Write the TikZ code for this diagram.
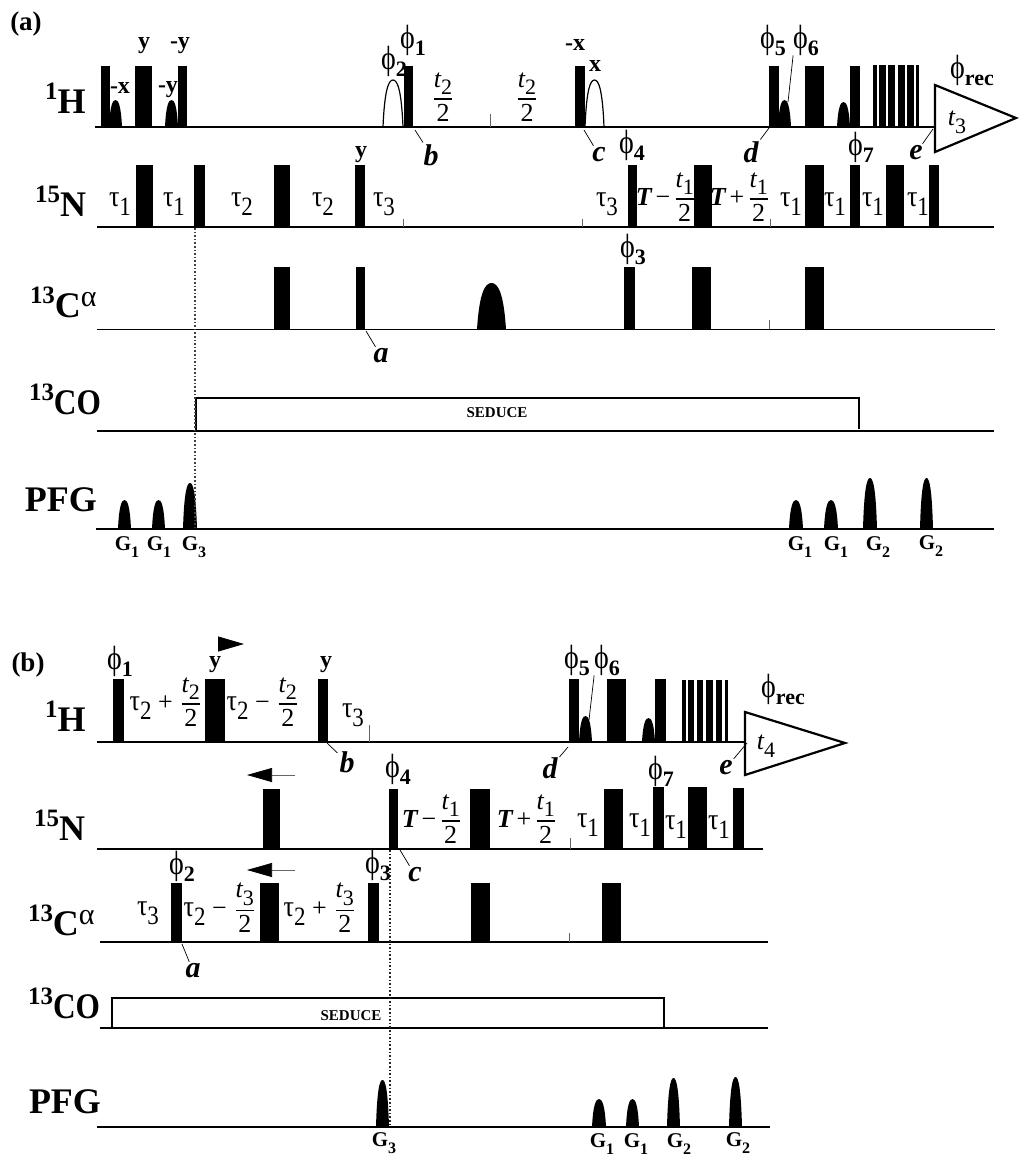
\documentclass[tikz,border=0pt]{standalone}
\usepackage{fontspec}
\setmainfont{Liberation Serif}
\usepackage{amsmath}
\usepackage{graphicx}
\usetikzlibrary{arrows.meta}
\tikzset{
  axisline/.style={line width=0.7pt},
  lead/.style={line width=0.35pt},
  tickline/.style={line width=0.35pt,draw=black!60},
  vline/.style={line width=0.8pt,draw=black!75,densely dotted},
  box/.style={line width=0.6pt},
  txt/.style={inner sep=0pt,outer sep=0pt,font=\fontsize{13}{15}\selectfont},
  nuc/.style={inner sep=0pt,outer sep=0pt,anchor=base west},
  lab/.style={txt,font=\fontsize{12}{14}\bfseries\selectfont},
  tag/.style={inner sep=0pt,outer sep=1pt,font=\fontsize{15}{17}\bfseries\itshape\selectfont},
  grad/.style={txt,font=\fontsize{10.5}{12}\bfseries\selectfont},
  larr/.style={line width=0.35pt,draw=black!60,-{Triangle[length=12.5pt,width=7pt,color=black]}},
}
\newcommand{\bigiso}[2]{{\fontsize{12.5}{14}\bfseries\selectfont\raisebox{0.55em}{#1}}{\fontsize{18}{20}\bfseries\selectfont #2}}
\newcommand{\coiso}{{\fontsize{12.5}{14}\bfseries\selectfont\raisebox{0.55em}{13}}\scalebox{0.87}[1]{\fontsize{18}{20}\bfseries\selectfont CO}}
\newcommand{\tausub}[1]{\scalebox{1}[1.15]{τ\raisebox{-0.3em}{\fontsize{11.5}{12}\selectfont #1}}}
\newcommand{\phisub}[1]{{\fontsize{14}{15}\selectfont\scalebox{1}[1.2]{ϕ}\raisebox{-0.25em}{\fontsize{11}{12}\bfseries\selectfont #1}}}
\newcommand{\gsub}[1]{G\raisebox{-0.3em}{\fontsize{8}{9}\bfseries\selectfont #1}}
\newcommand{\half}[2]{\ensuremath{\genfrac{}{}{0.6pt}{0}{\mbox{\itshape #1\raisebox{-0.3em}{\fontsize{11}{12}\upshape\selectfont #2}}}{\mbox{2}}}}
\newcommand{\tterm}[3]{\textbf{\textit{T}}\kern1.5pt#1\kern1.5pt\half{#2}{#3}}
\newcommand{\lobe}[5][fill]{%
  \pgfmathsetmacro{\lw}{#3-#2}\pgfmathsetmacro{\lh}{#5-#4}
  \path[#1] (#2,#5) .. controls (#2+0.08*\lw,#4+0.2*\lh) and (#2+0.28*\lw,#4) .. (#2+0.5*\lw,#4)
    .. controls (#3-0.28*\lw,#4) and (#3-0.08*\lw,#4+0.2*\lh) .. (#3,#5);}

\begin{document}
\begin{tikzpicture}[x=0.5pt,y=-0.5pt]
  \useasboundingbox (0,0) rectangle (1018,1157);
  % panel a
  \node[txt,font=\fontsize{13.5}{15}\bfseries\selectfont] (panela) at (26,24) {(a)};
  \node[nuc] (ha) at (45,113) {\bigiso{1}{H}};
  \node[nuc] (na) at (35,216) {\bigiso{15}{N}};
  \node[nuc] (ca) at (30,317) {\bigiso{13}{C}\raisebox{0.55em}{\fontsize{15}{16}\selectfont α}};
  \node[nuc] (coa) at (29,414) {\coiso};
  \node[nuc] (pfga) at (25,511) {{\fontsize{18}{20}\bfseries\selectfont PFG}};

  \draw[axisline] (95,127)--(935,127);
  \draw[axisline] (97,227)--(994,227);
  \draw[axisline] (97,329.5)--(995,329.5);
  \draw[axisline] (97,431)--(994,431);
  \draw[axisline] (96,529)--(994,529);

  \foreach \xa/\xb in {101/110,135/152,178/187,404/413,575/585,769/778.5,805/824,850/860}
    \fill (\xa,66) rectangle (\xb,127);
  \foreach \xa/\xb in {873/876.5,879/885.5,888/895,898/905,907/914,916/919}
    \fill (\xa,65) rectangle (\xb,127);
  \foreach \xa/\xb in {136/153,194/204.5,274/290,355/365,628/637,694/712,805/824,850/860,886/904,929/939}
    \fill (\xa,165) rectangle (\xb,227);
  \foreach \xa/\xb in {274/290,356/365,624/635,692/711,805/824}
    \fill (\xa,267) rectangle (\xb,329.5);

  \lobe{109}{122}{100}{127}
  \lobe{165}{178}{100}{127}
  \lobe{778}{791}{100}{127}
  \lobe{837}{850}{102}{127}
  \lobe[draw,box]{383}{403}{80}{127}
  \lobe[draw,box]{585}{604}{80}{127}
  \lobe{477}{506}{283}{329.5}
  \foreach \xa/\xb/\yt in {118/131/500,152/165/500,183/197/483,789/803/500,824/838/500,863/877/478,920/933/478}
    {\lobe{\xa}{\xb}{\yt}{529}}

  \foreach \xa/\ya/\yb in {490/114/127,403/219/227,582/219/227,770/219/227,769/320/329}
    \draw[tickline] (\xa,\ya)--(\xa,\yb);

  \draw[box,line width=0.8pt] (196,431)--(196,398)--(859,398)--(859,429);
  \node[txt,font=\fontsize{7.5}{9}\bfseries\selectfont] (seducea) at (497,413) {SEDUCE};
  \draw[vline] (195,228)--(195,529);
  \draw[line width=1.1pt,fill=white] (935,85)--(1016,118)--(935,152)--cycle;

  \node[lab] (ya) at (144,46) {y};
  \node[lab] (myb) at (180,46) {-y};
  \node[lab] (mxa) at (120,88) {-x};
  \node[lab] (myc) at (168,90) {-y};
  \node[lab] (yb) at (361,155) {y};
  \node[lab] (mxb) at (575,45) {-x};
  \node[lab] (xa) at (595,66) {x};
  \node[txt] (p1a) at (413,40) {\phisub{1}};
  \node[txt] (p2a) at (394,61) {\phisub{2}};
  \node[txt] (p4a) at (632,145) {\phisub{4}};
  \node[txt] (p3a) at (633,249) {\phisub{3}};
  \node[txt] (p5a) at (773,40) {\phisub{5}};
  \node[txt] (p6a) at (806,40) {\phisub{6}};
  \node[txt] (p7a) at (861,147) {\phisub{7}};
  \node[txt] (prec) at (972,70) {{\fontsize{14}{15}\selectfont\scalebox{1}[1.2]{ϕ}\raisebox{-0.25em}{\fontsize{11}{12}\bfseries\selectfont rec}}};
  \node[txt] (t2a) at (443,97) {\half{t}{2}};
  \node[txt] (t2b) at (527,97) {\half{t}{2}};
  \node[txt] (t3a) at (957,122) {\itshape t\raisebox{-0.3em}{\fontsize{11}{12}\upshape\selectfont 3}};
  \foreach \nm/\x/\s in {ta/120/1,tb/174/1,tc/242/2,td/323/2,te/384/3,tf/607/3,tg/791/1,th/835/1,ti/873/1,tj/918/1}
    \node[txt] (\nm) at (\x,204) {\tausub{\s}};
  \node[txt] (tma) at (666,197) {\tterm{−}{t}{1}};
  \node[txt] (tpa) at (740,197) {\tterm{+}{t}{1}};
  \foreach \nm/\s/\x/\y in {ga/1/127/547,gb/1/159/547,gc/3/194/547,gd/1/800/547,ge/1/836/547,gf/2/878/547,gg/2/931/546}
    \node[grad] (\nm) at (\x,\y) {\gsub{\s}};

  \foreach \nm/\s/\lx/\ly/\px/\py in {la/a/381/356/366/331,lb/b/431/155/415/130,lc/c/599/155/584/130,ld/d/751/152/769/128,le/e/916/153/933/129}{
    \node[tag] (\nm) at (\lx,\ly) {\s};
    \coordinate (c\nm) at (\px,\py);
    \draw[lead] (c\nm)--(\nm);
  }
  \coordinate (cp6a) at (788,102);
  \draw[lead] (p6a.south west)--(cp6a);

  % panel b
  \node[txt,font=\fontsize{13.5}{15}\bfseries\selectfont] (panelb) at (28,665) {(b)};
  \node[nuc] (hb) at (45,731) {\bigiso{1}{H}};
  \node[nuc] (nb) at (34,840) {\bigiso{15}{N}};
  \node[nuc] (cb) at (28,935) {\bigiso{13}{C}\raisebox{0.55em}{\fontsize{15}{16}\selectfont α}};
  \node[nuc] (cob) at (28,1018) {\coiso};
  \node[nuc] (pfgb) at (29,1113) {{\fontsize{18}{20}\bfseries\selectfont PFG}};

  \draw[axisline] (97,742)--(745,742);
  \draw[axisline] (97,849)--(763,849);
  \draw[axisline] (100,942)--(768,942);
  \draw[axisline] (100,1028)--(768,1028);
  \draw[axisline] (97,1127)--(770,1127);

  \foreach \xa/\xb in {113/124,205/225,318/328,569/579,607/626,655/666}
    \fill (\xa,679) rectangle (\xb,742);
  \foreach \xa/\xb in {682/685.5,688/694,697/703,706/713,716/722,725/728}
    \fill (\xa,680) rectangle (\xb,742);
  \foreach \xa/\xb/\yt in {263/280/789,389/398/789,470/490/789,604/623/789,653/664/787,688/707/787,733/744/788}
    \fill (\xa,\yt) rectangle (\xb,849);
  \foreach \xa/\xb in {171/182,260/279,368/379,471/490,602/621}
    \fill (\xa,883) rectangle (\xb,942);

  \lobe{579}{592}{716}{742}
  \lobe{642}{655}{718}{742}
  \foreach \xa/\xb/\yt in {376/389/1080,592/606/1099,626/639/1099,667/680/1078,729/742/1077}
    {\lobe{\xa}{\xb}{\yt}{1127}}

  \foreach \xa/\ya/\yb in {369/725/742,570/838/849,569/933/942}
    \draw[tickline] (\xa,\ya)--(\xa,\yb);

  \draw[box] (112,1028)--(112,998)--(664,998)--(664,1028);
  \node[txt,font=\fontsize{7.5}{9}\bfseries\selectfont] (seduceb) at (351,1016) {SEDUCE};
  \draw[vline,line width=1pt,draw=black!85] (390,850)--(390,1127);
  \draw[line width=1.1pt,fill=white] (745,712)--(845,743)--(745,775)--cycle;

  \coordinate (rta) at (218,644);
  \coordinate (rtb) at (244,644);
  \draw[-{Triangle[length=13pt,width=7.5pt]}] (rta)--(rtb);
  \coordinate (lta) at (295,775);
  \coordinate (ltb) at (247,775);
  \draw[larr] (lta)--(ltb);
  \coordinate (lua) at (295,870);
  \coordinate (lub) at (247,870);
  \draw[larr] (lua)--(lub);

  \node[lab] (yc) at (215,665) {y};
  \node[lab] (yd) at (326,665) {y};
  \node[txt] (p1b) at (120,661) {\phisub{1}};
  \node[txt] (p2b) at (182,866) {\phisub{2}};
  \node[txt] (p3b) at (378,865) {\phisub{3}};
  \node[txt] (p4b) at (398,769) {\phisub{4}};
  \node[txt] (p5b) at (577,660) {\phisub{5}};
  \node[txt] (p6b) at (607,660) {\phisub{6}};
  \node[txt] (p7b) at (661,771) {\phisub{7}};
  \node[txt] (precb) at (783,689) {{\fontsize{14}{15}\selectfont\scalebox{1}[1.2]{ϕ}\raisebox{-0.25em}{\fontsize{11}{12}\bfseries\selectfont rec}}};
  \node[txt] (t4b) at (766,746) {\itshape t\raisebox{-0.3em}{\fontsize{11}{12}\upshape\selectfont 4}};
  \node[txt] (tpc) at (166,702) {\tausub{2} + \half{t}{2}};
  \node[txt] (tmc) at (263,702) {\tausub{2} − \half{t}{2}};
  \node[txt] (tmd) at (220,908) {\tausub{2} − \half{t}{3}};
  \node[txt] (tpd) at (320,908) {\tausub{2} + \half{t}{3}};
  \node[txt] (tk) at (353,715) {\tausub{3}};
  \node[txt] (tl) at (148,913) {\tausub{3}};
  \node[txt] (tmb) at (432,819) {\tterm{−}{t}{1}};
  \node[txt] (tpb) at (527,819) {\tterm{+}{t}{1}};
  \foreach \nm/\x/\y in {tm/588/825,tn/640/825,to/676/827,tp/719/827}
    \node[txt] (\nm) at (\x,\y) {\tausub{1}};
  \foreach \nm/\s/\x/\y in {gh/3/384/1143,gi/1/602/1144,gj/1/636/1144,gk/2/679/1144,gl/2/738/1143}
    \node[grad] (\nm) at (\x,\y) {\gsub{\s}};

  \foreach \nm/\s/\lx/\ly/\px/\py in {lf/a/193/971/182/944,lg/b/347/762/327/743,lh/c/415/875/400/850,li/d/550/768/568/747,lj/e/726/768/747/743}{
    \node[tag] (\nm) at (\lx,\ly) {\s};
    \coordinate (c\nm) at (\px,\py);
    \draw[lead] (c\nm)--(\nm);
  }
  \coordinate (cp6b) at (589,720);
  \draw[lead] (p6b.south west)--(cp6b);
\end{tikzpicture}
\end{document}
